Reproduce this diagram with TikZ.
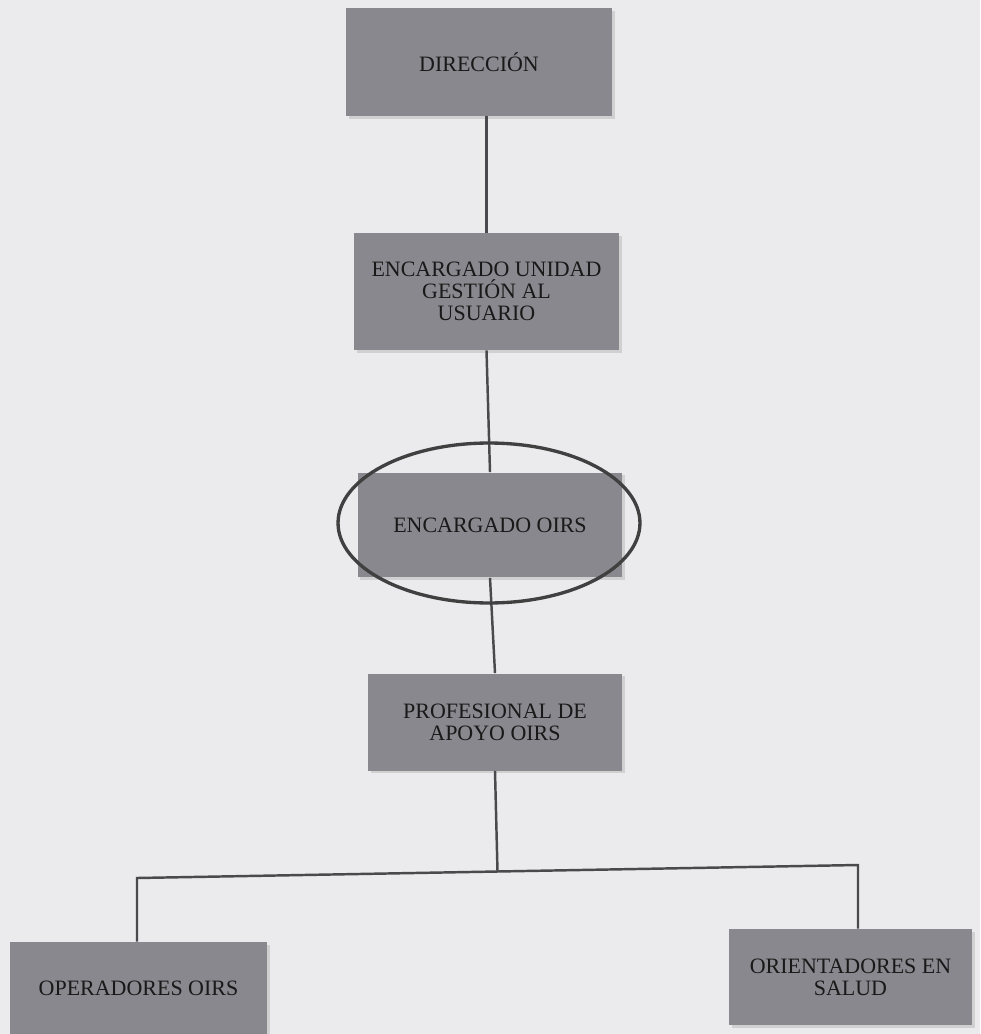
\documentclass[tikz,border=0pt]{standalone}
\usepackage{fontspec}
\setmainfont{Liberation Serif}
\usetikzlibrary{shadows,calc,shapes.geometric}
\definecolor{bgcol}{HTML}{EBEBED}
\definecolor{boxcol}{HTML}{88888E}
\definecolor{linecol}{HTML}{4A4A4E}
\tikzset{
  orgbox/.style={rectangle, fill=boxcol, align=center, inner sep=2pt,
    font=\fontsize{12.5}{12.5}\selectfont, text=black!90,
    drop shadow={shadow xshift=1.5pt, shadow yshift=-1.5pt, opacity=0.25}},
  conn/.style={draw=linecol, line width=1.4pt},
  ring/.style={draw=black!75, line width=1.9pt, ellipse}
}
\begin{document}
\begin{tikzpicture}[x=0.02cm, y=-0.02cm]
\fill[bgcol] (0,0) rectangle (980,1034);
\useasboundingbox (0,0) rectangle (980,1034);

\node[orgbox, minimum width=5.32cm, minimum height=2.16cm] (dir) at (479,62) {DIRECCIÓN};
\node[orgbox, minimum width=5.30cm, minimum height=2.34cm] (uni) at (486.5,291.5) {ENCARGADO UNIDAD\\GESTIÓN AL\\USUARIO};
\node[orgbox, minimum width=5.30cm, minimum height=2.10cm] (oirs) at (490,525) {ENCARGADO OIRS};
\node[orgbox, minimum width=5.08cm, minimum height=1.94cm] (prof) at (495,722) {PROFESIONAL DE\\APOYO OIRS};
\node[orgbox, minimum width=5.14cm, minimum height=1.84cm] (ope) at (138.5,988) {OPERADORES OIRS};
\node[orgbox, minimum width=4.86cm, minimum height=1.92cm] (ori) at (850.5,977) {ORIENTADORES EN\\SALUD};

\coordinate (jl) at (137,878);
\coordinate (jr) at (858,865);

\draw[conn] (dir.south -| uni.north) -- (uni.north);
\draw[conn] (uni.south) -- (oirs.north);
\draw[conn] (oirs.south) -- (prof.north);
\draw[conn] (prof.south) -- ($(jl)!0.5!(jr)$);
\draw[conn] (ope.north -| jl) -- (jl) -- (jr) -- (jr |- ori.north);

\node[ring, minimum width=6.04cm, minimum height=3.20cm] (ell) at (489,523) {};
\end{tikzpicture}
\end{document}
